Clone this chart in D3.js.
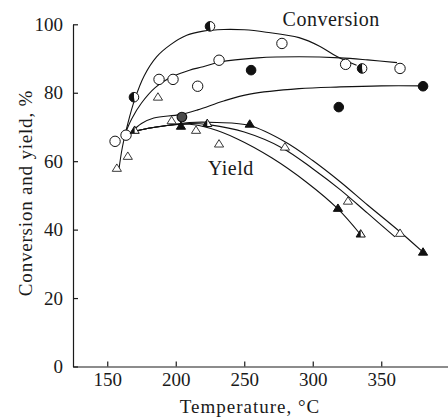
<!DOCTYPE html>
<html>
<head>
<meta charset="utf-8">
<script src="https://cdn.jsdelivr.net/npm/d3@7"></script>
<style>
  body { margin: 0; background: #fff; }
  svg { display: block; }
  text { font-family: "Liberation Serif", "Times New Roman", serif; fill: #1a1a1a; }
  .axis path, .axis line { stroke: #1a1a1a; stroke-width: 1.2; }
  .axis text { font-size: 19px; }
  .curve { fill: none; stroke: #111; stroke-width: 1.1; }
</style>
</head>
<body>
<div id="chart"></div>
<script>
var W = 448, H = 417,
	margin = { top: 24.3, right: 0, bottom: 50.5, left: 73 };

// ticks
var xTicks = [150, 200, 250, 300, 350],
	yTicks = [0, 20, 40, 60, 80, 100];

// fitted curves, [temperature, %]
var convTop = [[158.5,57.5],[161,64],[165,71],[170,78],[177,85],[186,90.5],[196,94],[208,96.8],[220,98],[235,98.5],[250,98.4],[266,97.7],[290,96.1],[305,93.6],[318,90.5],[332,88]],
	convMid = [[163,68],[168,72.5],[175,77],[185,81.5],[198,84.8],[210,86.6],[220,87.6],[232,89],[260,90.2],[290,90.5],[320,90.2],[340,89.6],[361.5,88.8]],
	convLow = [[167.8,68.6],[175,71],[184,72.6],[203,73.6],[216,75],[235,77.6],[254,79.6],[290,81.2],[320,81.7],[350,82],[380.5,82]],
	yieldLow = [[168,68.5],[180,69.6],[195,70.5],[210,70.8],[225,69.6],[245,66.5],[270,61],[295,54],[318,46.2],[335,38.5]],
	yieldInner = [[168,68.5],[180,69.6],[195,70.5],[210,71],[225,70.6],[250,68.5],[278,63.8],[300,57.8],[320,51.7],[340,44.8],[360,37.9]],
	yieldOuter = [[168,68.5],[180,69.6],[195,70.5],[210,71.3],[230,71.3],[254,70.4],[280,65.6],[300,60.2],[320,54],[340,47.2],[363,39.6],[380.5,33.4]];

// measured points
var openCircles = [[155.7,65.8],[163.7,67.6],[187.8,83.9],[198,83.9],[216,81.9],[231.6,89.5],[277.5,94.4],[324,88.3],[363.7,87.1]],
	halfCircles = [[169.5,78.7],[225,99.4],[336,87.1]],
	filledCircles = [[255,86.6],[319,75.8],[380.5,81.9]],
	hatchedCircles = [[204.5,72.9]],
	openTriangles = [[157,57.9],[165,61.4],[187,78.7],[197,71.8],[214.8,69],[231.6,65],[279.7,64.1],[325.7,48.3],[363.7,38.9]],
	filledTriangles = [[203.8,70.2],[254,70.8],[318.4,46.2],[380.5,33.4]],
	halfTriangles = [[170,69],[223,71],[335,38.7]];

var svg = d3.select("#chart").append("svg")
	.attr("width", W)
	.attr("height", H);

var x = d3.scaleLinear().domain([125, 400]).range([margin.left, margin.left + 275 * 1.37]);
var y = d3.scaleLinear().domain([0, 100]).range([H - margin.bottom, margin.top]);

// axes
svg.append("g")
	.attr("class", "axis")
	.attr("transform", "translate(" + margin.left + ",0)")
	.call(d3.axisLeft(y).tickValues(yTicks).tickSize(-5).tickSizeOuter(0).tickPadding(10));

svg.append("g")
	.attr("class", "axis")
	.attr("transform", "translate(0," + y(0) + ")")
	.call(d3.axisBottom(x).tickValues(xTicks).tickSize(-5).tickSizeOuter(0).tickPadding(6));

svg.selectAll(".axis .tick line").attr("stroke-width", 1);

// axis titles
svg.append("text")
	.attr("x", 250)
	.attr("y", 413)
	.style("text-anchor", "middle")
	.style("font-size", "19px")
	.style("letter-spacing", "1px")
	.text("Temperature, °C");

svg.append("text")
	.attr("transform", "translate(32,193) rotate(-90)")
	.style("text-anchor", "middle")
	.style("font-size", "19px")
	.style("letter-spacing", "0.8px")
	.text("Conversion and yield, %");

// labels
svg.append("text").attr("x", x(223.5)).attr("y", y(56)).style("font-size", "20px").style("letter-spacing", "0.5px").text("Yield");
svg.append("text").attr("x", x(278)).attr("y", y(99.5)).style("font-size", "20px").style("letter-spacing", "0.5px").text("Conversion");

// curves
var line = d3.line()
	.x(function(d) { return x(d[0]); })
	.y(function(d) { return y(d[1]); })
	.curve(d3.curveCatmullRom.alpha(0.5));

svg.selectAll(".curve")
	.data([convTop, convMid, convLow, yieldLow, yieldInner, yieldOuter])
	.enter().append("path")
	.attr("class", "curve")
	.attr("d", line);

// markers
var R = 5.2;

svg.selectAll(".oc").data(openCircles).enter().append("circle")
	.attr("cx", function(d) { return x(d[0]); })
	.attr("cy", function(d) { return y(d[1]); })
	.attr("r", R)
	.attr("fill", "#fff").attr("stroke", "#111").attr("stroke-width", 1);

svg.selectAll(".fc").data(filledCircles).enter().append("circle")
	.attr("cx", function(d) { return x(d[0]); })
	.attr("cy", function(d) { return y(d[1]); })
	.attr("r", 4.8)
	.attr("fill", "#111").attr("stroke", "#111").attr("stroke-width", 1);

svg.selectAll(".hc").data(hatchedCircles).enter().append("circle")
	.attr("cx", function(d) { return x(d[0]); })
	.attr("cy", function(d) { return y(d[1]); })
	.attr("r", 4.8)
	.attr("fill", "#4a4a4a").attr("stroke", "#111").attr("stroke-width", 1.2);

var half = svg.selectAll(".hf").data(halfCircles).enter().append("g")
	.attr("transform", function(d) { return "translate(" + x(d[0]) + "," + y(d[1]) + ")"; });
half.append("circle").attr("r", 4.8).attr("fill", "#fff").attr("stroke", "#111").attr("stroke-width", 1);
half.append("path")
	.attr("d", d3.arc()({ innerRadius: 0, outerRadius: 4.8, startAngle: Math.PI * 0.95, endAngle: Math.PI * 2 }))
	.attr("fill", "#111");

function tri(cx, cy) {
	var s = 4.6, h = 7.4;
	return "M" + cx + "," + (cy - h * 0.6) + "L" + (cx + s) + "," + (cy + h * 0.4) + "L" + (cx - s) + "," + (cy + h * 0.4) + "Z";
}

svg.selectAll(".ot").data(openTriangles).enter().append("path")
	.attr("d", function(d) { return tri(x(d[0]), y(d[1])); })
	.attr("fill", "#fff").attr("stroke", "#222").attr("stroke-width", 0.9);

svg.selectAll(".ft").data(filledTriangles).enter().append("path")
	.attr("d", function(d) { return tri(x(d[0]), y(d[1])); })
	.attr("fill", "#111").attr("stroke", "#111").attr("stroke-width", 1);

svg.selectAll(".ht").data(halfTriangles).enter().append("path")
	.attr("d", function(d) { return tri(x(d[0]), y(d[1])); })
	.attr("fill", "#fff").attr("stroke", "#111").attr("stroke-width", 1);
svg.selectAll(".ht2").data(halfTriangles).enter().append("path")
	.attr("d", function(d) {
		var cx = x(d[0]), cy = y(d[1]);
		return "M" + cx + "," + (cy - 4.4) + "L" + cx + "," + (cy + 2.96) + "L" + (cx - 4.6) + "," + (cy + 2.96) + "Z";
	})
	.attr("fill", "#111");
</script>
</body>
</html>
